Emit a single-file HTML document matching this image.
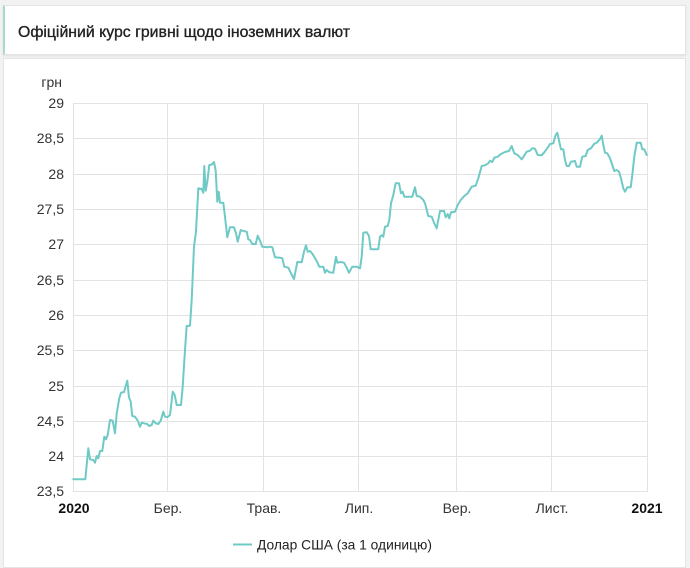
<!DOCTYPE html>
<html>
<head>
<meta charset="utf-8">
<style>
  html,body{margin:0;padding:0;background:#f2f2f2;}
  body{width:690px;height:555px;overflow:hidden;position:relative;font-family:"Liberation Sans",Arial,sans-serif;}
  .hdr{position:absolute;left:3px;top:5px;width:683px;height:50px;background:#fff;border:1px solid #e4e4e4;border-left:2px solid #a9dcc8;box-sizing:border-box;box-shadow:0 1px 2px rgba(0,0,0,0.08);}
  .card{position:absolute;left:3px;top:58px;width:683px;height:510px;background:#fff;border:1px solid #e4e4e4;box-sizing:border-box;}
  svg{position:absolute;left:0;top:0;}
</style>
</head>
<body>
<div class="hdr"></div>
<div class="card"></div>
<svg width="690" height="555" viewBox="0 0 690 555" xmlns="http://www.w3.org/2000/svg">
  <text x="18" y="37" font-family="Liberation Sans, sans-serif" font-size="16" fill="#222" stroke="#222" stroke-width="0.35" textLength="332" lengthAdjust="spacingAndGlyphs">Офіційний курс гривні щодо іноземних валют</text>

  <g stroke="#e3e3e3" stroke-width="1" fill="none">
    <line x1="73" y1="103.5" x2="647" y2="103.5"/>
    <line x1="73" y1="138.5" x2="647" y2="138.5"/>
    <line x1="73" y1="174.5" x2="647" y2="174.5"/>
    <line x1="73" y1="209.5" x2="647" y2="209.5"/>
    <line x1="73" y1="244.5" x2="647" y2="244.5"/>
    <line x1="73" y1="280.5" x2="647" y2="280.5"/>
    <line x1="73" y1="315.5" x2="647" y2="315.5"/>
    <line x1="73" y1="350.5" x2="647" y2="350.5"/>
    <line x1="73" y1="386.5" x2="647" y2="386.5"/>
    <line x1="73" y1="421.5" x2="647" y2="421.5"/>
    <line x1="73" y1="456.5" x2="647" y2="456.5"/>
    <line x1="73" y1="491.5" x2="647" y2="491.5"/>
    <line x1="73.5" y1="103" x2="73.5" y2="492"/>
    <line x1="167.5" y1="103" x2="167.5" y2="492"/>
    <line x1="263.5" y1="103" x2="263.5" y2="492"/>
    <line x1="358.5" y1="103" x2="358.5" y2="492"/>
    <line x1="456.5" y1="103" x2="456.5" y2="492"/>
    <line x1="551.5" y1="103" x2="551.5" y2="492"/>
    <line x1="647.5" y1="103" x2="647.5" y2="492"/>
  </g>

  <g font-family="Liberation Sans, sans-serif" font-size="14" fill="#333" text-anchor="end">
    <text x="62" y="87" text-anchor="end">грн</text>
    <text x="64" y="108">29</text>
    <text x="64" y="143">28,5</text>
    <text x="64" y="179">28</text>
    <text x="64" y="214">27,5</text>
    <text x="64" y="249">27</text>
    <text x="64" y="285">26,5</text>
    <text x="64" y="320">26</text>
    <text x="64" y="355">25,5</text>
    <text x="64" y="391">25</text>
    <text x="64" y="426">24,5</text>
    <text x="64" y="461">24</text>
    <text x="64" y="496">23,5</text>
  </g>

  <g font-family="Liberation Sans, sans-serif" font-size="14" fill="#333" text-anchor="middle">
    <text x="74" y="513" font-weight="bold" fill="#111">2020</text>
    <text x="168" y="513">Бер.</text>
    <text x="264" y="513">Трав.</text>
    <text x="359" y="513">Лип.</text>
    <text x="457" y="513">Вер.</text>
    <text x="552" y="513">Лист.</text>
    <text x="647" y="513" font-weight="bold" fill="#111">2021</text>
  </g>

  <polyline fill="none" stroke="#6fcac6" stroke-width="2" stroke-linejoin="round" stroke-linecap="round" points="
73.3,479.3 85.3,479.3 88.3,448.3 90,459.3 93.3,460 95,462.7 96.7,456 98.3,458.3 100,451 102.3,451 104.3,436.7 106,439.3 107.7,435 110,420 112.7,420.7 115,433.3 116.7,413.3 119.3,398.3 121,392.7 124,392 126,385 127.3,380.7 129,397.3 130.7,401.7 132.3,416 135,416.7 137.7,420.7 140,426.7 141.7,422.7 144,423.3 147.3,424 149,426 151.7,425 153.3,420.7 155.7,423.3 158.3,424 160.7,420.7 163.3,411.7 165,416.7 167.3,417.3 170,415 172.7,391.7 174.7,395 176.7,405 181,405 182.7,386.7 185,350 186.7,326 190,325.7 191.7,300 194,246.7 196,231.7 198.3,188.3 201.7,189 203.3,192.7 204.3,166 205.7,190.7 207.3,181.7 209.3,165 211.7,164.7 214,162 215.7,170.7 217.3,201.7 218.7,191.7 220,202.7 223.3,202.7
225,216.7 227.3,237.3 230,227.3 234,227.3 236,233.3 237.7,241.7 240.7,230 243.3,231 246.7,231.7 248.3,239.3 250,240 252.3,244 255.7,244 257.7,235.7 260,240.7 262.3,246.7 267.7,247.3 270,246.7 272.3,247.3 275,257.3 280,257.7 282.3,258.3 284.3,266.7 288.3,267.7 291,273.3 294,279 297.3,262 301.7,262.3 304,251.7 306,245.3 307.7,251.7 310,251 312.7,254.3 316.7,261 319.3,266.7 323.3,266.7 325,272.7 326.7,270 329.3,272.3 333.3,272.7 336,256.7 337.3,262.7 340.7,262 344,262.7 346.7,267.7 349,272.7 352.3,266.7 356.7,266.7 360,268.3 361.7,256.7 363.3,232.7 366.7,232.3 369,236 370.7,249.3 374,249.3 377.3,249.3
378.3,249 380,236.7 381.7,235.3 383.3,236.7 385,226.7 387.7,226 389.3,220 391,203.3 393.3,195 395.7,183.3 399,183.3 401,193.3 402.7,191.7 404.3,196.7 408.3,196.7 412.3,196.7 415,187.3 416.7,196 420,196.7 423.3,200 425,203.3 428.3,216 431.7,216.7 434,222.7 436.7,228.3 440,211 444,211 445.7,217.3 447.7,214 449.3,218.3 451,212.3 455,211.7 457.7,205 460.7,200 464.3,196 467.7,193.3 471.7,186.7 475.7,185.7 478.3,178.3 481.7,166 485,165.3 488.3,163.3 490,160.7 492.3,162 494.3,157.7 497.7,156.7 501,154 505,152 509,151 511.7,146 514.3,153.3 517.7,155 521.7,159.3 524,156
526.7,151.7 530,150.7 532.3,148.3 535,148.7 537.7,155 541.7,155.3 544.3,152.3 547.7,147.7 550,144 553.3,143.3 555.7,135 557.3,132.7 559.3,141.7 561,149.3 563.3,149.3 565,160 566.7,166 569,166 571,161.7 575,161 576.7,166.7 580,166.7 582.3,156.7 585.7,156 587.7,150 591,148.3 594,144 596.7,142.7 600,139 601.7,135.7 603.3,145 605,152.7 607.3,153.3 610,158.3 612.3,165 614.3,171 616.7,170 619,171.7 621,178.3 623.3,188.3 625,191.7 627.3,187.3 630.7,187.3 632.3,175 634.3,156.7 636.7,142.7 640.7,142.7 642.3,149.3 644.3,149.3 646.7,155"/>

  <line x1="233" y1="544.5" x2="252" y2="544.5" stroke="#6fcac6" stroke-width="2"/>
  <text x="257" y="549.5" font-family="Liberation Sans, sans-serif" font-size="14" fill="#222" textLength="175" lengthAdjust="spacingAndGlyphs">Долар США (за 1 одиницю)</text>
</svg>
</body>
</html>
